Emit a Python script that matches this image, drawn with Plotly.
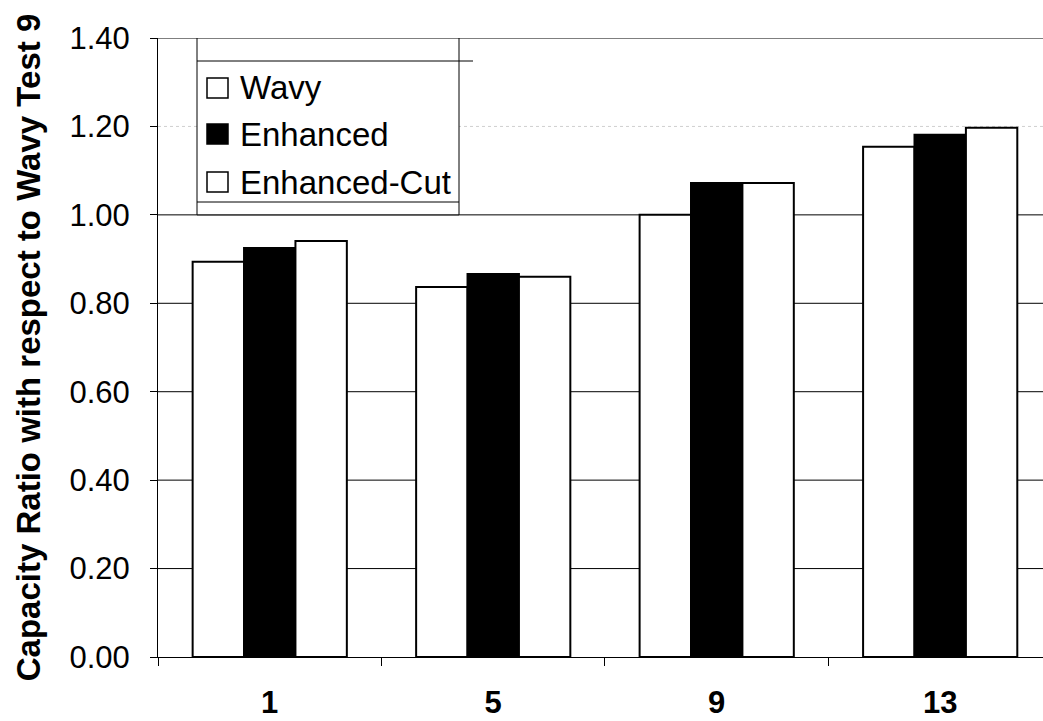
import plotly.graph_objects as go

tests = ["1", "5", "9", "13"]
wavy = [0.894, 0.837, 1.00, 1.154]
enhanced = [0.925, 0.866, 1.072, 1.181]
enhanced_cut = [0.941, 0.860, 1.072, 1.197]
y_ticks = [0.0, 0.2, 0.4, 0.6, 0.8, 1.0, 1.2, 1.4]

series_names = ["Wavy", "Enhanced", "Enhanced-Cut"]
series_values = [wavy, enhanced, enhanced_cut]
series_colors = ["white", "black", "white"]

W, H = 1043, 721
L, R, T, B = 158, 0, 38, 64
PW, PH = W - L - R, H - T - B


def px(x):
    """page x pixel -> plot-area fraction"""
    return (x - L) / PW


def py(y):
    """page y pixel -> plot-area fraction"""
    return (H - B - y) / PH


fig = go.Figure()
for name, vals, color in zip(series_names, series_values, series_colors):
    fig.add_trace(go.Bar(
        x=tests, y=vals, name=name, showlegend=False,
        marker=dict(color=color, line=dict(color="black", width=2)),
    ))

fig.update_layout(
    width=W, height=H,
    margin=dict(l=L, r=R, t=T, b=B),
    paper_bgcolor="white", plot_bgcolor="white",
    barmode="group", bargap=0.31, bargroupgap=0,
    font=dict(family="Arial, Liberation Sans, sans-serif", color="black"),
    xaxis=dict(
        type="category", range=[-0.5, 3.46], automargin=False,
        showline=True, linecolor="black", linewidth=1,
        ticks="outside", tickson="boundaries", ticklen=8, tickcolor="black",
        tickfont=dict(size=31, family="Arial, Liberation Sans, sans-serif",
                      weight="bold"),
        ticklabelstandoff=18,
        showgrid=False,
    ),
    yaxis=dict(
        range=[0, 1.4], tickvals=y_ticks, tickformat=".2f", automargin=False,
        showline=True, linecolor="black", linewidth=1,
        ticks="outside", ticklen=7, tickcolor="black",
        tickfont=dict(size=31), ticklabelstandoff=14,
        showgrid=False, zeroline=False,
        title=dict(
            text="<b>Capacity Ratio with respect to Wavy Test 9</b>",
            font=dict(size=33), standoff=18,
        ),
    ),
)

# horizontal grid lines at each y tick (the 1.20 line is faint)
for v in y_ticks[1:]:
    faint = abs(v - 1.2) < 1e-9
    fig.add_shape(type="line", xref="paper", yref="y",
                  x0=0, x1=1, y0=v, y1=v, layer="below",
                  line=dict(color="#cfcfcf" if faint else "black",
                            width=1, dash="dot" if faint else "solid"))

# legend frame
fig.add_shape(type="rect", xref="paper", yref="y",
              x0=px(197), x1=px(459), y0=1.0, y1=1.4,
              line=dict(color="black", width=1), fillcolor="white",
              layer="below")
fig.add_shape(type="line", xref="paper", yref="paper",
              x0=px(197), x1=px(473), y0=py(61), y1=py(61),
              line=dict(color="black", width=1))
fig.add_shape(type="line", xref="paper", yref="paper",
              x0=px(197), x1=px(459), y0=py(202), y1=py(202),
              line=dict(color="black", width=1))

# legend entries
row_y = [88, 134, 182]
for name, color, yy in zip(series_names, series_colors, row_y):
    fig.add_shape(type="rect", xref="paper", yref="paper",
                  x0=px(207), x1=px(228), y0=py(yy - 10), y1=py(yy + 10),
                  line=dict(color="black", width=1.5), fillcolor=color)
    fig.add_annotation(xref="paper", yref="paper", x=px(238), y=py(yy),
                       text=name, showarrow=False, xanchor="left",
                       yanchor="middle", font=dict(size=33))

fig.write_html("out.html")
